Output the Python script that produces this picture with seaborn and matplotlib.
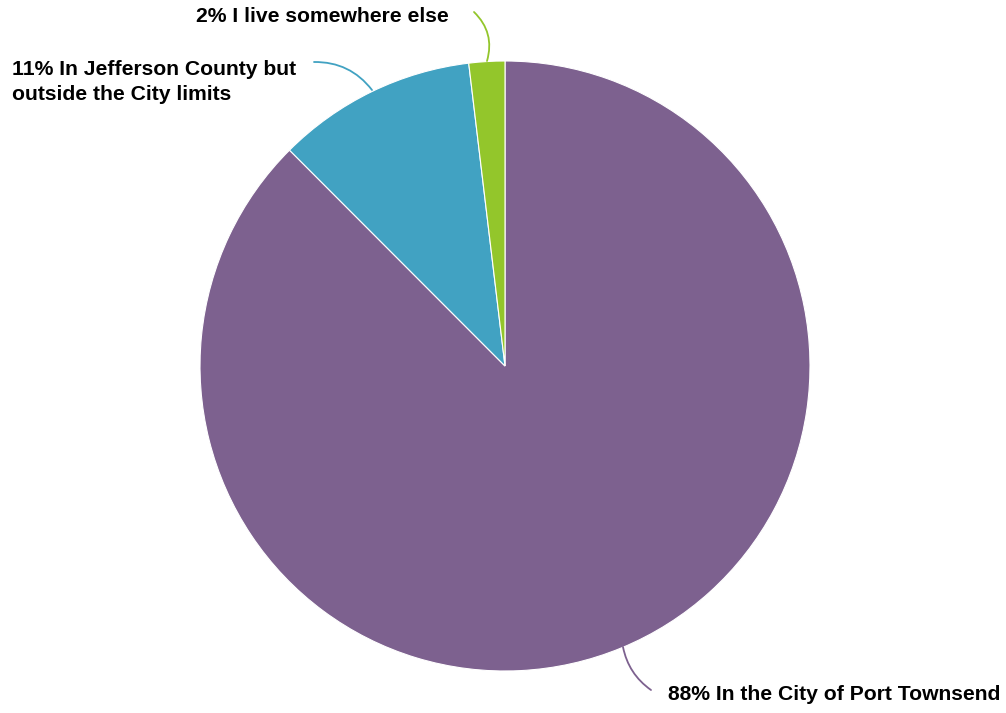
import matplotlib
matplotlib.use("Agg")
import matplotlib.pyplot as plt
import seaborn as sns

# data
categories = ["In the City of Port Townsend",
              "In Jefferson County but\noutside the City limits",
              "I live somewhere else"]
shares = [87.6, 10.6, 1.9]
colors = ["#7d618f", "#41a2c2", "#93c62b"]

sns.set_theme(style="white")
plt.rcParams["font.family"] = ["Liberation Sans", "DejaVu Sans"]

W, H = 1006, 713
fig = plt.figure(figsize=(W / 100, H / 100), dpi=100)
ax = fig.add_axes([0, 0, 1, 1])

# pie centre / radius in pixel units (y measured from bottom)
cx, cy, r = 505, H - 366, 305
ax.pie(shares, colors=colors, startangle=90, counterclock=False,
       center=(cx, cy), radius=r, frame=True,
       wedgeprops=dict(edgecolor="white", linewidth=0.8))
ax.set_xlim(0, W)
ax.set_ylim(0, H)
ax.set_aspect("equal")
ax.axis("off")

# labels and curved leader lines: (text pos, line start on pie, line end)
label_pos = [(668, H - 694), (12, H - 82), (196, H - 17)]
line_from = [(623, H - 647), (372, H - 90), (487, H - 61)]
line_to = [(651, H - 690), (314, H - 62), (474, H - 12)]
rads = [0.2, 0.25, 0.3]

for cat, v, col, tp, a, b, rad in zip(categories, shares, colors,
                                      label_pos, line_from, line_to, rads):
    ax.text(tp[0], tp[1], f"{v:.0f}% {cat}", ha="left", va="center",
            fontsize=15.2, fontweight="bold", color="black", linespacing=1.45)
    ax.annotate("", xy=b, xytext=a,
                arrowprops=dict(arrowstyle="-", color=col, lw=1.3,
                                shrinkA=0, shrinkB=0,
                                connectionstyle=f"arc3,rad={rad}"))

fig.savefig("out.png", dpi=100, facecolor="white")
